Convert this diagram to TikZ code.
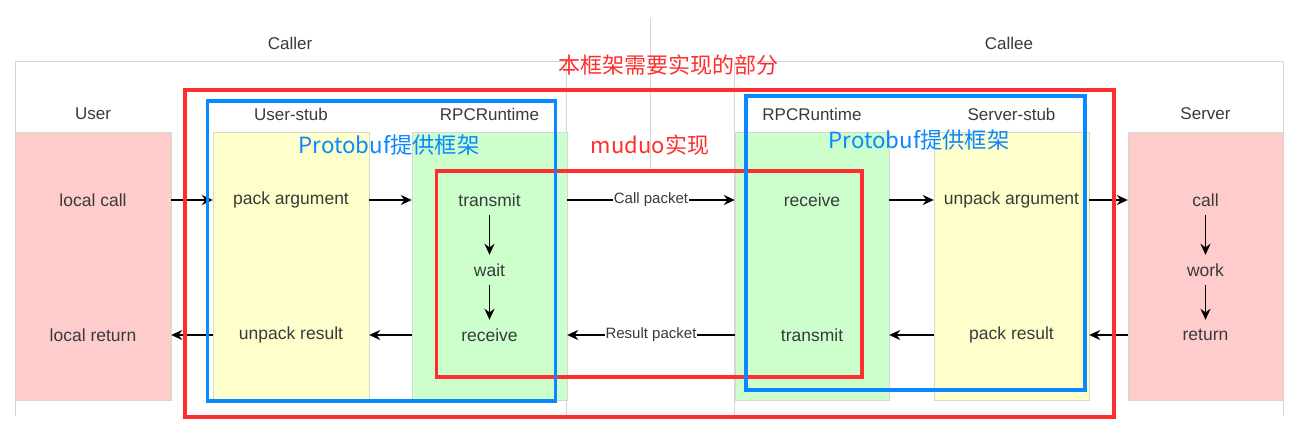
\documentclass[tikz,border=0pt]{standalone}
\usepackage{fontspec}
\setmainfont{Liberation Sans}
\newfontfamily\cjk{Noto Sans CJK SC}
\usetikzlibrary{arrows.meta}
\definecolor{lanepink}{HTML}{FFCCCC}
\definecolor{laneyellow}{HTML}{FFFFCC}
\definecolor{lanegreen}{HTML}{CCFFCC}
\definecolor{lanegray}{HTML}{D6D6D6}
\definecolor{txtgray}{HTML}{3A3A3A}
\definecolor{annred}{HTML}{FF2E2E}
\definecolor{annblue}{HTML}{0A88FF}
\begin{document}
\begin{tikzpicture}[x=1pt,y=-1pt,
  lane/.style={draw=lanegray, line width=0.8pt, inner sep=0pt, anchor=north west, minimum height=268pt},
  lbl/.style={text=txtgray, font=\fontsize{17.5}{19}\selectfont, inner sep=0pt, minimum height=30pt},
  hdr/.style={text=txtgray, font=\fontsize{17}{19}\selectfont, inner sep=0pt},
  arr/.style={-{Stealth[length=11pt,width=10pt]}, line width=1.9pt, black},
  pkt/.style={fill=white, text=txtgray, font=\fontsize{15}{16}\selectfont, inner xsep=1pt, inner ysep=0pt},
  frame/.style={draw=lanegray, line width=0.9pt},
  redbox/.style={draw=annred, line width=3.3pt},
  bluebox/.style={draw=annblue, line width=3.3pt},
  redtxt/.style={text=annred, font=\cjk\fontsize{22}{24}\selectfont, inner sep=0pt},
  bluetxt/.style={text=annblue, font=\cjk\fontsize{22.3}{24}\selectfont, inner sep=0pt}]
\useasboundingbox[fill=white] (0,0) rectangle (1311,431);

% frames
\draw[frame] (15,416) -- (15,61) -- (566,61) -- (566,416);
\draw[frame] (734,416) -- (734,61) -- (1283,61) -- (1283,416);
\draw[frame] (650,18) -- (650,173);
\node[hdr] (caller) at (290,43) {Caller};
\node[hdr] (callee) at (1009,43) {Callee};

% lanes
\node[lane, fill=lanepink,   minimum width=156pt] (lUser) at (15,132) {};
\node[lane, fill=laneyellow, minimum width=156pt] (lUstub) at (213,132) {};
\node[lane, fill=lanegreen,  minimum width=155pt] (lRt1) at (412,132) {};
\node[lane, fill=lanegreen,  minimum width=154pt] (lRt2) at (735,132) {};
\node[lane, fill=laneyellow, minimum width=155pt] (lSstub) at (934,132) {};
\node[lane, fill=lanepink,   minimum width=155pt] (lServer) at (1128,132) {};

% headers
\node[hdr] (hUser) at (93,114) {User};
\node[hdr] (hUstub) at (291,114) {User-stub};
\node[hdr] (hRt1) at (489.5,114) {RPCRuntime};
\node[hdr] (hRt2) at (812,114) {RPCRuntime};
\node[hdr] (hSstub) at (1011.5,114) {Server-stub};
\node[hdr] (hServer) at (1205.5,114) {Server};

% labels
\node[lbl, minimum width=156pt] (lc) at (93,200) {local call};
\node[lbl, minimum width=156pt] (pa) at (291,200) {pack argument};
\node[lbl, minimum width=155pt] (tr1) at (489.5,200) {transmit};
\node[lbl, minimum width=155pt] (wa) at (489.5,270) {wait};
\node[lbl, minimum width=155pt] (rc1) at (489.5,335) {receive};
\node[lbl, minimum width=156pt] (ur) at (291,335) {unpack result};
\node[lbl, minimum width=156pt] (lr) at (93,335) {local return};

\node[lbl, minimum width=154pt] (rc2) at (812,200) {receive};
\node[lbl, minimum width=155pt] (ua) at (1011.5,200) {unpack argument};
\node[lbl, minimum width=155pt] (call) at (1205.5,200) {call};
\node[lbl, minimum width=155pt] (work) at (1205.5,270) {work};
\node[lbl, minimum width=155pt] (ret) at (1205.5,335) {return};
\node[lbl, minimum width=155pt] (pr) at (1011.5,335) {pack result};
\node[lbl, minimum width=154pt] (tr2) at (812,335) {transmit};

% connectors
\draw[arr] (lc) -- (pa);
\draw[arr] (pa) -- (tr1);
\draw[arr] (tr1) -- (wa);
\draw[arr] (wa) -- (rc1);
\draw[arr] (tr1) -- node[pkt] {Call packet} (rc2);
\draw[arr] (rc2) -- (ua);
\draw[arr] (ua) -- (call);
\draw[arr] (call) -- (work);
\draw[arr] (work) -- (ret);
\draw[arr] (ret) -- (pr);
\draw[arr] (pr) -- (tr2);
\draw[arr] (tr2) -- node[pkt] {Result packet} (rc1);
\draw[arr] (rc1) -- (ur);
\draw[arr] (ur) -- (lr);

% annotation boxes
\draw[redbox] (185,90) rectangle (1114,417);
\draw[redbox] (436.5,171) rectangle (862,377);
\draw[bluebox] (207.5,101) rectangle (555.5,401);
\draw[bluebox] (746,96) rectangle (1085,390);

\node[redtxt] (tAll) at (668,65) {本框架需要实现的部分};
\node[redtxt] (tMuduo) at (650,145) {muduo实现};
\node[bluetxt] (tPb1) at (389,145) {Protobuf提供框架};
\node[bluetxt] (tPb2) at (919,140) {Protobuf提供框架};
\end{tikzpicture}
\end{document}
